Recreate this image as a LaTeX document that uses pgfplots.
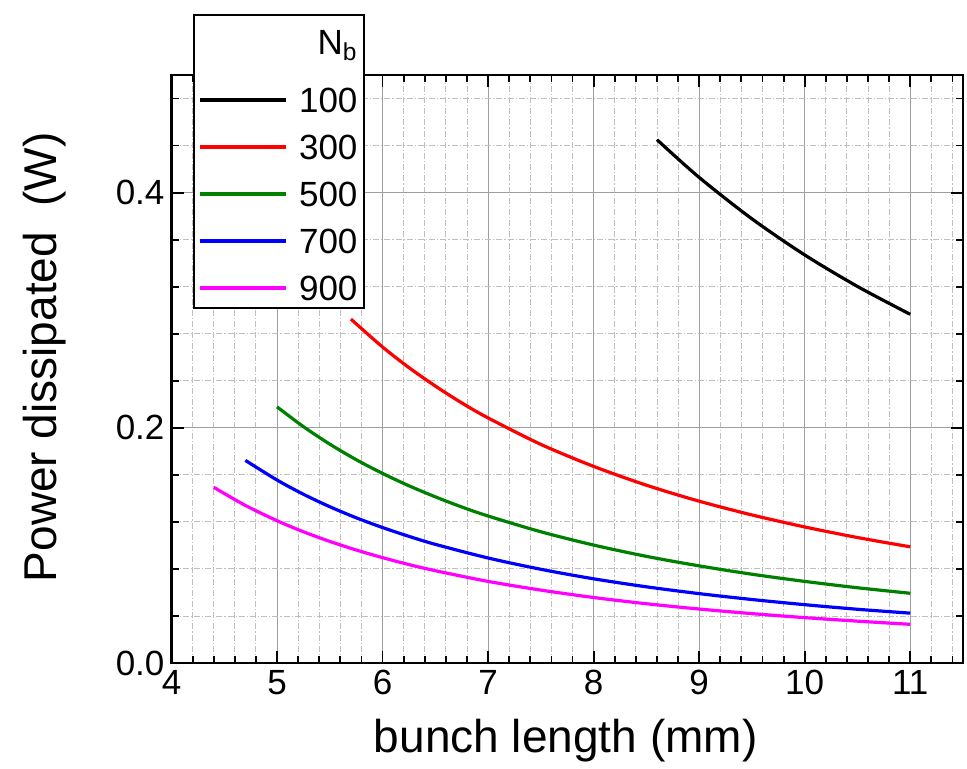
\documentclass[border=0pt]{standalone}
\usepackage{fontspec}
\setmainfont{Liberation Sans}
\usepackage{pgfplots}
\pgfplotsset{compat=1.18}
\definecolor{cgreen}{RGB}{0,128,0}
\definecolor{cmag}{RGB}{255,0,255}
\begin{document}
\begin{tikzpicture}
\useasboundingbox (-85.75pt,-52.5pt) rectangle (397.75pt,331.5pt);
\begin{axis}[
  at={(0,0)}, anchor=south west,
  scale only axis, width=395.75pt, height=294pt,
  xmin=4, xmax=11.5, ymin=0, ymax=0.5,
  xtick={4,5,6,7,8,9,10,11},
  ytick={0,0.2,0.4},
  minor xtick={4.2,4.4,4.6,4.8,5.2,5.4,5.6,5.8,6.2,6.4,6.6,6.8,7.2,7.4,7.6,7.8,8.2,8.4,8.6,8.8,9.2,9.4,9.6,9.8,10.2,10.4,10.6,10.8,11.2,11.4},
  minor ytick={0.04,0.08,0.12,0.16,0.24,0.28,0.32,0.36,0.44,0.48},
  yticklabel style={/pgf/number format/.cd, fixed, fixed zerofill, precision=1},
  /pgf/number format/assume math mode=true,
  tick label style={font=\fontsize{17.5}{20}\selectfont},
  grid=both,
  major grid style={gray!75, line width=0.5pt},
  minor grid style={gray!50, line width=0.45pt, dash pattern=on 3pt off 1pt on 0.6pt off 1pt},
  axis line style={line width=1pt},
  major tick length=6pt, minor tick length=3.5pt,
  every tick/.style={black, line width=0.9pt},
  tick align=inside,
  xlabel={bunch length (mm)},
  ylabel={Power dissipated\ \ (W)},
  every axis x label/.style={at={(rel axis cs:0.498,-0.153)}, anchor=base, font=\fontsize{23}{27}\selectfont},
  every axis y label/.style={at={(rel axis cs:-0.16,0.52)}, anchor=center, rotate=90, font=\fontsize{23}{27}\selectfont},
  legend image code/.code={\draw[#1, line width=2.1pt] (0pt,0pt) -- (43pt,0pt);},
  legend cell align=right,
  legend style={at={(rel axis cs:0.027,1.104)}, anchor=north west,
    draw=black, line width=1pt, fill=white, inner sep=2pt,
    font=\fontsize{17.5}{20}\selectfont,
    row sep=8pt,
    nodes={inner sep=1.5pt, text height=12.5pt, text depth=0pt},
    /tikz/every odd column/.append style={column sep=4pt}},
]
\addlegendimage{empty legend}
\addlegendentry[text height=16.5pt, text depth=5.5pt]{N\textsubscript{b}}

\addplot[black, line width=1.6pt, smooth] coordinates {
(8.6,0.4450) (9.0,0.4129) (9.5,0.3777) (10.0,0.3470) (10.5,0.3202) (11.0,0.2965)};
\addlegendentry{100}

\addplot[red, line width=1.6pt, smooth] coordinates {
(5.7,0.2924) (6.0,0.2687) (6.25,0.2512) (6.5,0.2355) (6.75,0.2212) (7.0,0.2084)
(7.5,0.1859) (8.0,0.1672) (8.5,0.1512) (9.0,0.1376) (9.5,0.1259) (10.0,0.1157)
(10.5,0.1067) (11.0,0.0988)};
\addlegendentry{300}

\addplot[cgreen, line width=1.6pt, smooth] coordinates {
(5.0,0.2178) (5.25,0.2010) (5.5,0.1861) (5.75,0.1729) (6.0,0.1612) (6.25,0.1507) (6.5,0.1413)
(6.75,0.1327) (7.0,0.1250) (7.5,0.1116) (8.0,0.1003) (8.5,0.0907) (9.0,0.0826)
(9.5,0.0755) (10.0,0.0694) (10.5,0.0640) (11.0,0.0593)};
\addlegendentry{500}

\addplot[blue, line width=1.6pt, smooth] coordinates {
(4.7,0.1723) (5.0,0.1556) (5.25,0.1435) (5.5,0.1329) (5.75,0.1235) (6.0,0.1152) (6.25,0.1077) (6.5,0.1009)
(7.0,0.0893) (7.5,0.0797) (8.0,0.0716) (8.5,0.0648) (9.0,0.0590) (9.5,0.0540)
(10.0,0.0496) (10.5,0.0457) (11.0,0.0424)};
\addlegendentry{700}

\addplot[cmag, line width=1.6pt, smooth] coordinates {
(4.4,0.1494) (4.7,0.1340) (5.0,0.1210) (5.25,0.1116) (5.5,0.1034) (5.75,0.0961) (6.0,0.0896) (6.25,0.0837)
(6.5,0.0785) (7.0,0.0694) (7.5,0.0620) (8.0,0.0557) (8.5,0.0504) (9.0,0.0459)
(9.5,0.0420) (10.0,0.0386) (10.5,0.0356) (11.0,0.0329)};
\addlegendentry{900}

\node[anchor=base, font=\fontsize{23}{27}\selectfont] at (rel axis cs:0.546,1.0476) {4 K liner\ \ RRR=200};
\end{axis}
\end{tikzpicture}
\end{document}
